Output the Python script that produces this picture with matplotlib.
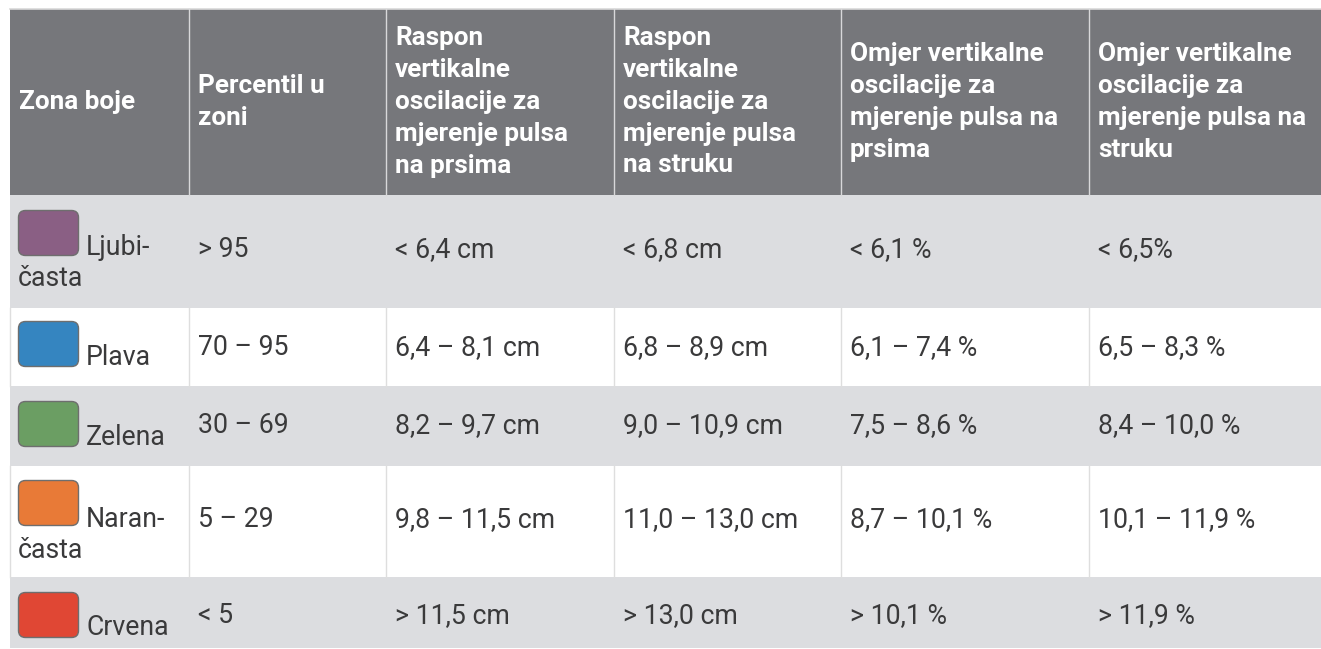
import matplotlib
matplotlib.use("Agg")
import matplotlib.pyplot as plt
from matplotlib.patches import Rectangle, FancyBboxPatch

# ---- data ----
headers = [
    ["Zona boje"],
    ["Percentil u", "zoni"],
    ["Raspon", "vertikalne", "oscilacije za", "mjerenje pulsa", "na prsima"],
    ["Raspon", "vertikalne", "oscilacije za", "mjerenje pulsa", "na struku"],
    ["Omjer vertikalne", "oscilacije za", "mjerenje pulsa na", "prsima"],
    ["Omjer vertikalne", "oscilacije za", "mjerenje pulsa na", "struku"],
]
zones = [["Ljubi-", "časta"], ["Plava"], ["Zelena"], ["Naran-", "časta"], ["Crvena"]]
zone_colors = ["#8a5f84", "#3585c0", "#6b9e63", "#e87a37", "#e04734"]
percentiles = ["> 95", "70 – 95", "30 – 69", "5 – 29", "< 5"]
chest_range = ["< 6,4 cm", "6,4 – 8,1 cm", "8,2 – 9,7 cm", "9,8 – 11,5 cm", "> 11,5 cm"]
waist_range = ["< 6,8 cm", "6,8 – 8,9 cm", "9,0 – 10,9 cm", "11,0 – 13,0 cm", "> 13,0 cm"]
chest_ratio = ["< 6,1 %", "6,1 – 7,4 %", "7,5 – 8,6 %", "8,7 – 10,1 %", "> 10,1 %"]
waist_ratio = ["< 6,5%", "6,5 – 8,3 %", "8,4 – 10,0 %", "10,1 – 11,9 %", "> 11,9 %"]

# ---- layout (pixels) ----
W, H = 1321, 649
col_x = [10, 189, 386, 614, 841, 1089, 1321]
header_top, header_bot = 9, 195
row_y = [195, 308, 386, 466, 577, 648]
row_bg = ["#dcdde0", "#ffffff", "#dcdde0", "#ffffff", "#dcdde0"]
val_base = [257, 355, 433, 527, 623]
name_base = [255, 365, 445, 527, 635]
sw_top = [210, 321, 401, 480, 592]

HEAD_BG = "#76777b"
TXT = "#3a3a3b"
FONT = "Roboto"
HFS = 18.8
BFS = 19.2

fig = plt.figure(figsize=(W / 100, H / 100), dpi=100)
ax = fig.add_axes([0, 0, 1, 1])
ax.set_xlim(0, W)
ax.set_ylim(H, 0)
ax.axis("off")

# header
ax.add_patch(Rectangle((col_x[0], header_top), col_x[-1] - col_x[0], header_bot - header_top,
                       facecolor=HEAD_BG, edgecolor="none"))
ax.plot([col_x[0], col_x[-1]], [header_top - 0.5, header_top - 0.5], color="#d9d9d9", lw=1.2)
for x in col_x[1:-1]:
    ax.plot([x, x], [header_top, header_bot], color="#d8d8da", lw=1.0)

for c, lines in enumerate(headers):
    n = len(lines)
    for i, ln in enumerate(lines):
        yb = 109 + (i - (n - 1) / 2) * 31.75
        ax.text(col_x[c] + 9, yb, ln, fontsize=HFS, fontfamily=FONT, fontweight="bold",
                color="white", va="baseline", ha="left")

# body rows
cols = [percentiles, chest_range, waist_range, chest_ratio, waist_ratio]
for r in range(len(zones)):
    y0, y1 = row_y[r], row_y[r + 1]
    ax.add_patch(Rectangle((col_x[0], y0), col_x[-1] - col_x[0], y1 - y0,
                           facecolor=row_bg[r], edgecolor="none"))
    if row_bg[r] == "#ffffff":
        for x in col_x[:-1]:
            ax.plot([x, x], [y0, y1], color="#dedede", lw=1.0)
    # swatch
    ax.add_patch(FancyBboxPatch((18.5, sw_top[r] + 0.5), 60, 45,
                                boxstyle="round,pad=0,rounding_size=7",
                                facecolor=zone_colors[r], edgecolor="#6e6e6e", lw=1.0))
    name = zones[r]
    ax.text(86, name_base[r], name[0], fontsize=BFS, fontfamily=FONT, color=TXT,
            va="baseline", ha="left")
    if len(name) > 1:
        ax.text(18, name_base[r] + 31, name[1], fontsize=BFS, fontfamily=FONT, color=TXT,
                va="baseline", ha="left")
    for c, vals in enumerate(cols):
        ax.text(col_x[c + 1] + 9, val_base[r], vals[r], fontsize=BFS, fontfamily=FONT,
                color=TXT, va="baseline", ha="left")

fig.savefig("out.png", dpi=100, facecolor="white")
